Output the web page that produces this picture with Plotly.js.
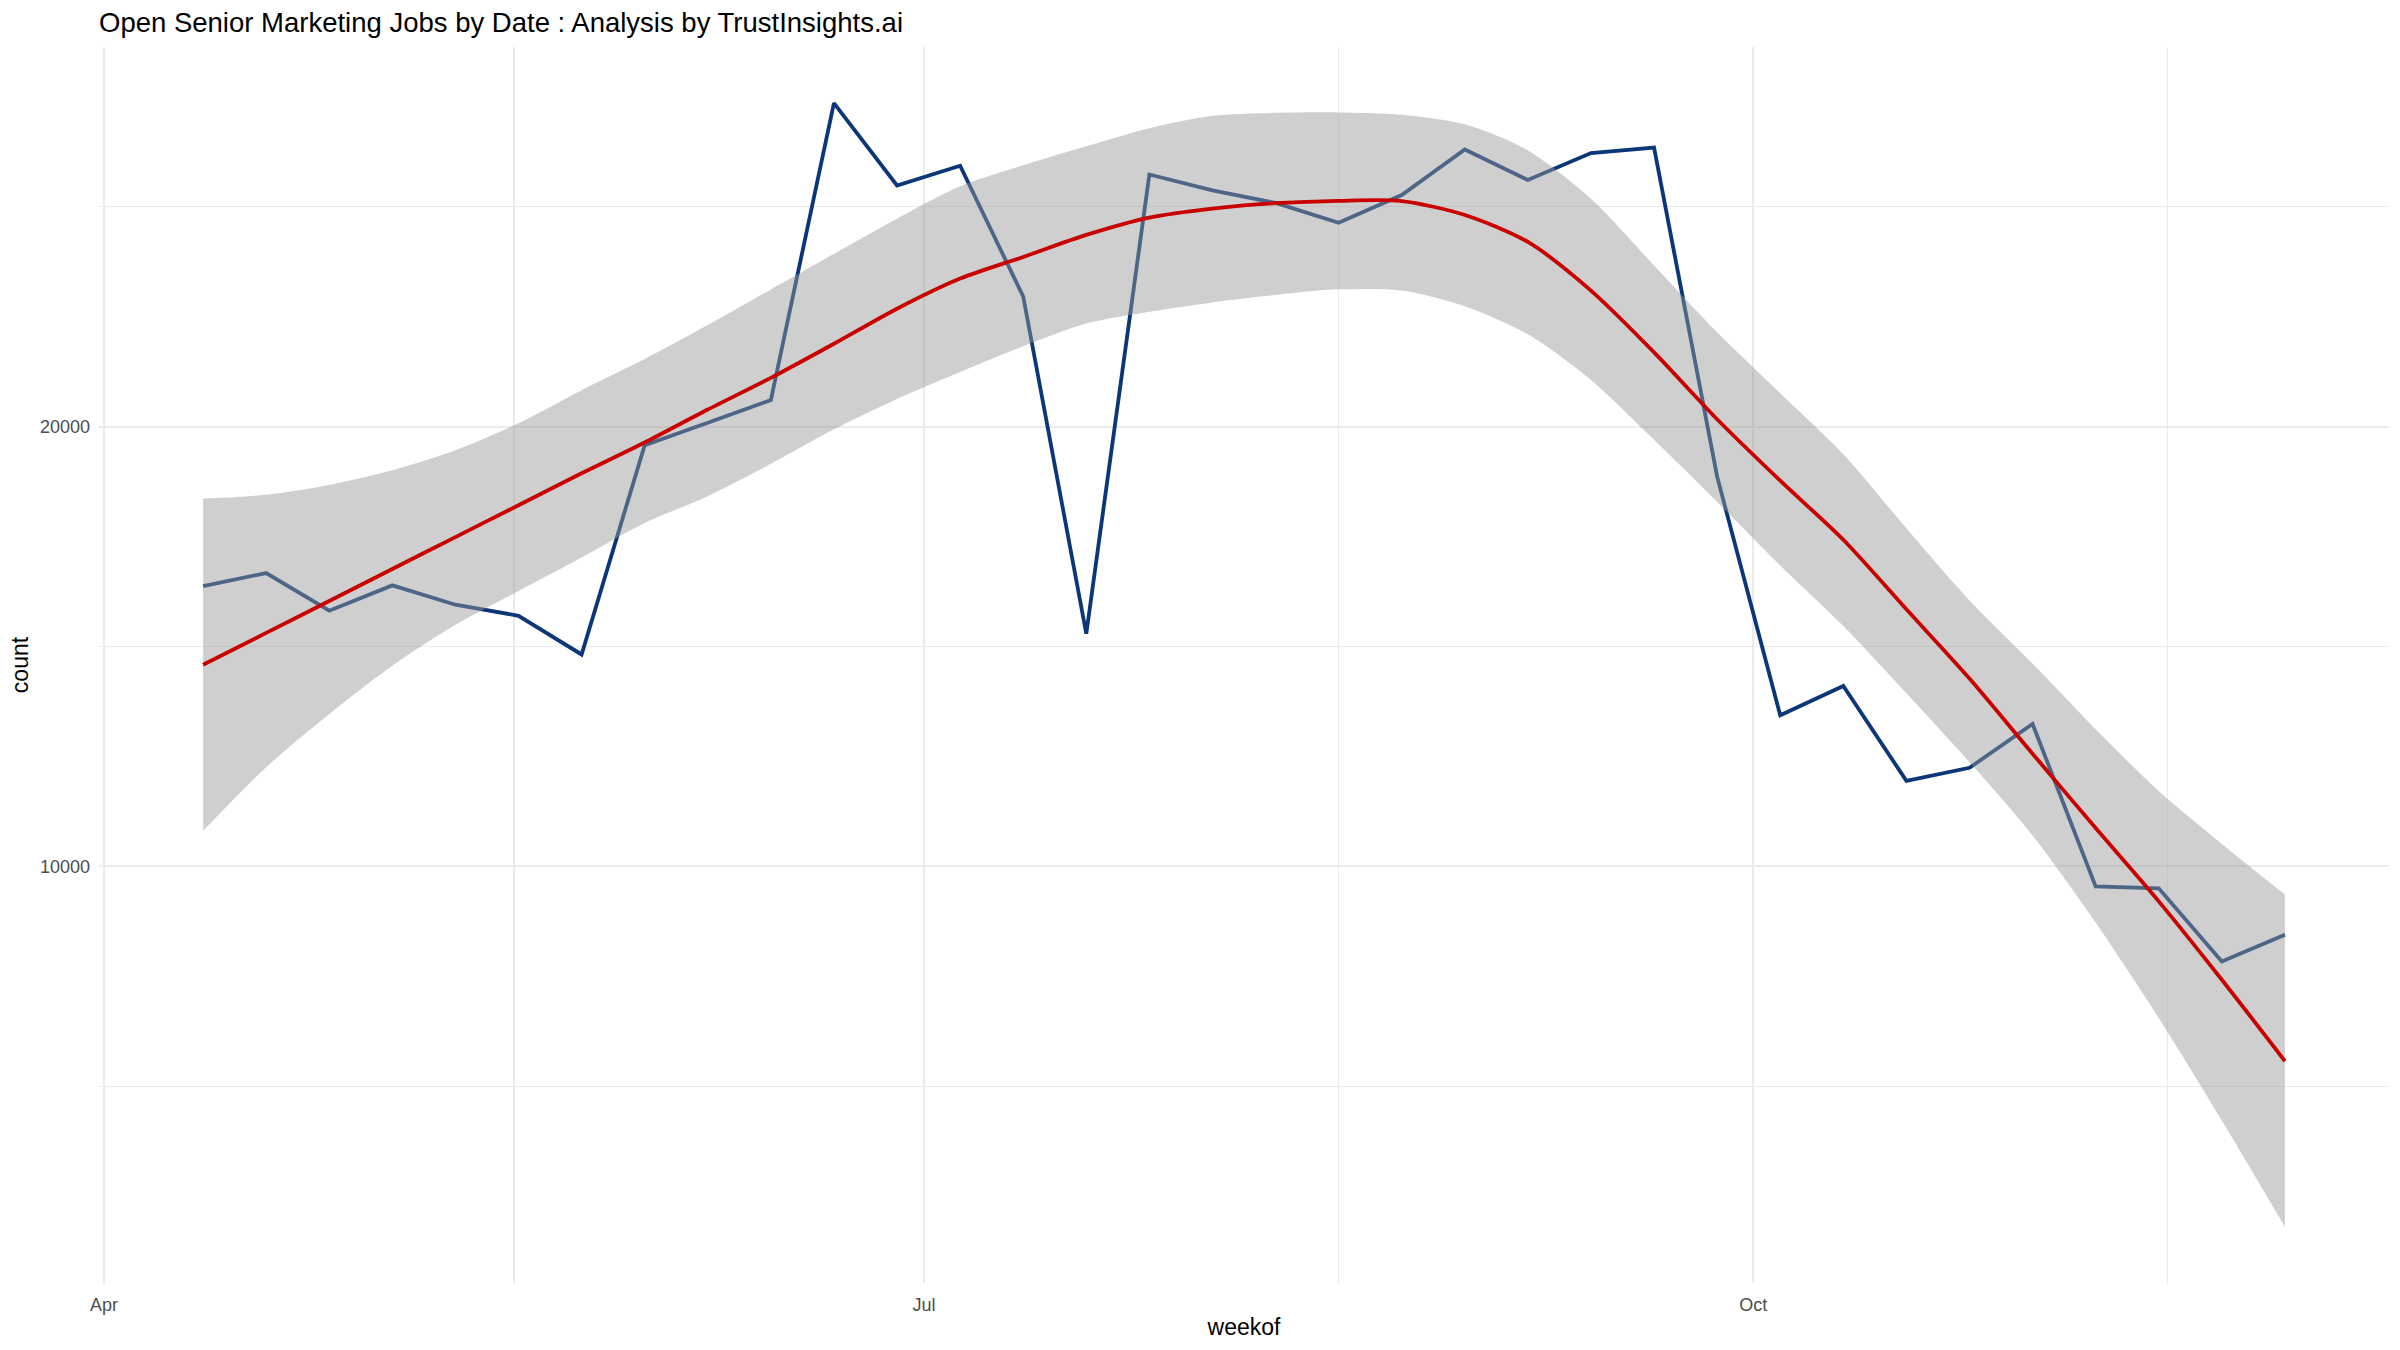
<!DOCTYPE html>
<html>
<head>
<meta charset="utf-8">
<script src="https://cdn.plot.ly/plotly-3.0.1.min.js"></script>
<style>
  html, body { margin: 0; padding: 0; background: #ffffff; }
  #chart { width: 2400px; height: 1350px; }
</style>
</head>
<body>
<div id="chart"></div>
<script>
// ---- Data ----
const weekof = [
  '2021-04-12','2021-04-19','2021-04-26','2021-05-03','2021-05-10','2021-05-17','2021-05-24','2021-05-31',
  '2021-06-07','2021-06-14','2021-06-21','2021-06-28','2021-07-05','2021-07-12','2021-07-19','2021-07-26',
  '2021-08-02','2021-08-09','2021-08-16','2021-08-23','2021-08-30','2021-09-06','2021-09-13','2021-09-20',
  '2021-09-27','2021-10-04','2021-10-11','2021-10-18','2021-10-25','2021-11-01','2021-11-08','2021-11-15',
  '2021-11-22','2021-11-29'
];
const counts = [
  16374, 16670, 15813, 16390, 15950, 15699, 14818, 19579,
  20090, 20604, 27358, 25485, 25934, 22961, 15290, 25736,
  25376, 25089, 24638, 25269, 26303, 25610, 26223, 26348,
  18863, 13435, 14102, 11945, 12240, 13237, 9545, 9498,
  7834, 8442
];
const smoothFit = [
  14583, 15309, 16035, 16762, 17488, 18214, 18940, 19640,
  20390, 21110, 21886, 22683, 23369, 23860, 24362, 24756,
  24960, 25083, 25138, 25131, 24815, 24202, 23095, 21690,
  20169, 18771, 17427, 15845, 14270, 12560, 10870, 9203,
  7420, 5570
];
const smoothUpper = [
  18365, 18450, 18676, 19007, 19463, 20077, 20831, 21540,
  22311, 23122, 23930, 24730, 25466, 25948, 26380, 26790,
  27071, 27138, 27148, 27097, 26876, 26284, 25185, 23667,
  22149, 20762, 19373, 17689, 16048, 14612, 13120, 11712,
  10510, 9360
];
const smoothLower = [
  10809, 12253, 13462, 14560, 15492, 16265, 17025, 17810,
  18420, 19154, 19940, 20630, 21245, 21830, 22347, 22614,
  22827, 22997, 23123, 23097, 22740, 22100, 21060, 19700,
  18290, 16843, 15465, 13937, 12370, 10700, 8720, 6550,
  4220, 1800
];
const xTickVals = ['2021-04-01', '2021-07-01', '2021-10-01'];
const xTickText = ['Apr', 'Jul', 'Oct'];
const xMinorVals = ['2021-05-16 12:00', '2021-08-16', '2021-11-16'];
const yTickVals = [10000, 20000];
const yTickText = ['10000', '20000'];
const yMinorVals = [5000, 15000, 25000];

// ---- ggplot-like expanded ranges (5%) ----
const t = weekof.map(d => Date.parse(d));
const tMin = Math.min(...t), tMax = Math.max(...t);
const tPad = (tMax - tMin) * 0.05;
const allY = counts.concat(smoothUpper, smoothLower, smoothFit);
const yMin = Math.min(...allY), yMax = Math.max(...allY);
const yPad = (yMax - yMin) * 0.05;

const navy = '#0b3778';
const red = '#c80000';
const FONT = 'Liberation Sans, Arial, Helvetica, sans-serif';

const traces = [
  {
    x: weekof, y: counts, type: 'scatter', mode: 'lines',
    line: { color: navy, width: 3.8 }, hoverinfo: 'skip'
  },
  {
    x: weekof, y: smoothLower, type: 'scatter', mode: 'lines',
    line: { width: 0, shape: 'spline', smoothing: 0.8 }, hoverinfo: 'skip'
  },
  {
    x: weekof, y: smoothUpper, type: 'scatter', mode: 'lines',
    line: { width: 0, shape: 'spline', smoothing: 0.8 },
    fill: 'tonexty', fillcolor: 'rgba(153,153,153,0.47)', hoverinfo: 'skip'
  },
  {
    x: weekof, y: smoothFit, type: 'scatter', mode: 'lines',
    line: { color: red, width: 3.8, shape: 'spline', smoothing: 0.8 }, hoverinfo: 'skip'
  }
];

const gridColor = '#ebebeb';

const layout = {
  width: 2400, height: 1350,
  paper_bgcolor: '#ffffff', plot_bgcolor: '#ffffff',
  showlegend: false,
  margin: { l: 99, r: 11, t: 47, b: 67, pad: 0 },
  font: { family: FONT, color: '#000000' },
  title: {
    text: 'Open Senior Marketing Jobs by Date : Analysis by TrustInsights.ai',
    font: { family: FONT, size: 27.5, color: '#000000' },
    xref: 'paper', x: 0, xanchor: 'left',
    yref: 'container', y: 1 - 22 / 1350, yanchor: 'middle'
  },
  xaxis: {
    type: 'date',
    range: [tMin - tPad, tMax + tPad],
    tickmode: 'array', tickvals: xTickVals, ticktext: xTickText,
    tickfont: { family: FONT, size: 18, color: '#4d4d4d' },
    ticks: '', ticklabelstandoff: 9,
    showgrid: true, gridcolor: gridColor, gridwidth: 2.1,
    minor: { tickmode: 'array', tickvals: xMinorVals, showgrid: true, gridcolor: gridColor, gridwidth: 1.1, ticks: '' },
    zeroline: false, showline: false,
    title: { text: 'weekof', font: { family: FONT, size: 23, color: '#000000' }, standoff: 4 }
  },
  yaxis: {
    range: [yMin - yPad, yMax + yPad],
    tickmode: 'array', tickvals: yTickVals, ticktext: yTickText,
    tickfont: { family: FONT, size: 18, color: '#4d4d4d' },
    ticks: '', ticklabelstandoff: 8,
    showgrid: true, gridcolor: gridColor, gridwidth: 2.1,
    minor: { tickmode: 'array', tickvals: yMinorVals, showgrid: true, gridcolor: gridColor, gridwidth: 1.1, ticks: '' },
    zeroline: false, showline: false,
    title: { text: 'count', font: { family: FONT, size: 23, color: '#000000' }, standoff: 4 }
  }
};

Plotly.newPlot('chart', traces, layout, { staticPlot: true, displayModeBar: false });
</script>
</body>
</html>
